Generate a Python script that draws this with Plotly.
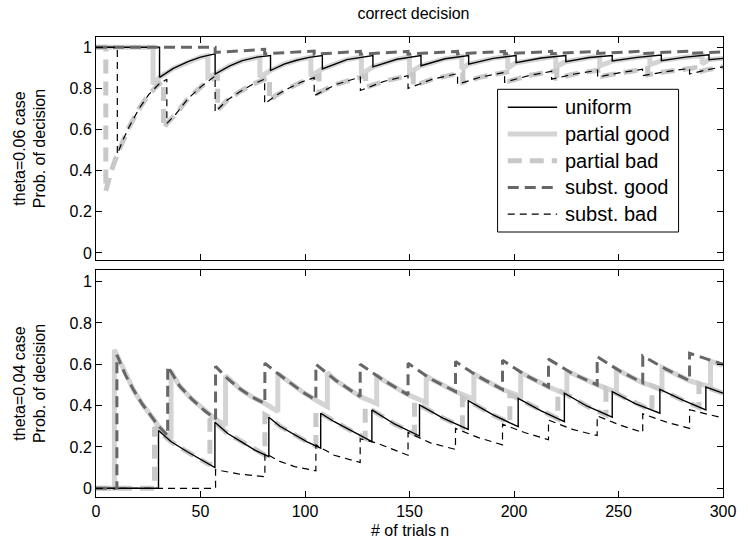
import plotly.graph_objects as go

# ---------------- data: (n, probability) breakpoints ----------------
# Top panel : theta = 0.06
top_uniform = [(0, 1), (30.4, 1), (30.4, 0.854), (37, 0.897), (44, 0.93), (50, 0.952), (57, 0.968),
               (57, 0.87), (64, 0.91), (70, 0.935), (77, 0.952), (83.5, 0.96),
               (83.5, 0.887), (90, 0.918), (96, 0.937), (102, 0.951), (108.3, 0.96),
               (108.3, 0.895), (120, 0.94), (132.5, 0.96), (132.5, 0.905), (144, 0.942), (155.5, 0.96),
               (155.5, 0.91), (167, 0.944), (178.3, 0.96), (178.3, 0.918), (190, 0.946), (201, 0.96),
               (201, 0.925), (213, 0.948), (224.8, 0.96), (224.8, 0.93), (236, 0.95), (247, 0.96),
               (247, 0.933), (259, 0.951), (270.5, 0.962), (270.5, 0.935), (282, 0.952), (293.3, 0.963),
               (293.3, 0.94), (300, 0.946)]
top_partial_good = [(0, 1), (27.3, 1), (27.3, 0.82), (30.4, 0.854), (37, 0.897), (44, 0.93), (50, 0.952),
                    (53.5, 0.96), (53.5, 0.855), (57, 0.87), (64, 0.91), (70, 0.935), (77, 0.952),
                    (78.4, 0.954), (78.4, 0.855), (83.5, 0.887), (90, 0.918), (96, 0.937), (102.8, 0.952),
                    (102.8, 0.86), (108.3, 0.895), (120, 0.94), (127, 0.953), (127, 0.87), (132.5, 0.905),
                    (144, 0.942), (150, 0.953), (150, 0.878), (155.5, 0.91), (167, 0.944), (175, 0.956),
                    (175, 0.895), (178.3, 0.918), (190, 0.946), (197, 0.956), (197, 0.898), (201, 0.925),
                    (213, 0.948), (220, 0.957), (220, 0.905), (224.8, 0.93), (236, 0.95), (241, 0.957),
                    (241, 0.91), (247, 0.933), (259, 0.951), (265, 0.958), (265, 0.915), (270.5, 0.935),
                    (282, 0.952), (290, 0.96), (290, 0.92), (293.3, 0.94), (300, 0.946)]
top_partial_bad = [(0, 1), (4.7, 1), (4.7, 0.30), (7, 0.39), (10.2, 0.48), (12.5, 0.54), (15.7, 0.61),
                   (20.5, 0.70), (25.2, 0.77), (30, 0.82), (32.3, 0.835),
                   (32.3, 0.605), (33.9, 0.63), (37.8, 0.67), (44, 0.75), (50.4, 0.81), (57, 0.86), (58.2, 0.865),
                   (58.2, 0.695), (63, 0.745), (69, 0.785), (75, 0.82), (80.7, 0.845), (83, 0.855),
                   (83, 0.74), (86, 0.765), (92, 0.80), (98, 0.83), (104.4, 0.852), (106.7, 0.86),
                   (106.7, 0.78), (115, 0.82), (126.5, 0.855), (129, 0.862),
                   (129, 0.805), (138, 0.835), (149.3, 0.862), (151.8, 0.868),
                   (151.8, 0.812), (161, 0.845), (173, 0.872), (175.5, 0.877),
                   (175.5, 0.83), (184, 0.855), (195.5, 0.878), (198, 0.882),
                   (198, 0.837), (207, 0.862), (218, 0.883), (220.5, 0.887),
                   (220.5, 0.85), (229, 0.87), (240, 0.888), (242.5, 0.891),
                   (242.5, 0.86), (251, 0.877), (261.5, 0.893), (264, 0.896),
                   (264, 0.866), (273, 0.882), (284, 0.897), (286.5, 0.9),
                   (286.5, 0.875), (292, 0.89), (300, 0.905)]
top_subst_good = [(0, 1), (57, 1), (57, 0.975), (80.7, 0.99), (80.7, 0.968), (104.4, 0.982), (104.4, 0.966),
                  (126.5, 0.98), (126.5, 0.966), (149.3, 0.98), (149.3, 0.967), (173, 0.98), (173, 0.968),
                  (195.5, 0.98), (195.5, 0.968), (218, 0.98), (218, 0.969), (240, 0.98), (240, 0.97),
                  (261.5, 0.981), (261.5, 0.97), (284, 0.981), (284, 0.971), (300, 0.977)]
top_subst_bad = [(0, 1), (10.2, 1), (10.2, 0.48), (12.5, 0.54), (15.7, 0.61), (20.5, 0.70), (25.2, 0.77),
                 (30, 0.82), (33.9, 0.845),
                 (33.9, 0.63), (37.8, 0.67), (44, 0.75), (50.4, 0.81), (57, 0.86),
                 (57, 0.685), (63, 0.745), (69, 0.785), (75, 0.82), (80.7, 0.845),
                 (80.7, 0.725), (86, 0.765), (92, 0.80), (98, 0.83), (104.4, 0.852),
                 (104.4, 0.765), (115, 0.82), (126.5, 0.855),
                 (126.5, 0.79), (138, 0.835), (149.3, 0.862),
                 (149.3, 0.80), (161, 0.845), (173, 0.872),
                 (173, 0.82), (184, 0.855), (195.5, 0.878),
                 (195.5, 0.83), (207, 0.862), (218, 0.883),
                 (218, 0.845), (229, 0.87), (240, 0.888),
                 (240, 0.855), (251, 0.877), (261.5, 0.893),
                 (261.5, 0.862), (273, 0.882), (284, 0.897),
                 (284, 0.87), (292, 0.89), (300, 0.905)]

# Bottom panel : theta = 0.04
bot_uniform = [(0, 0), (29.9, 0), (29.9, 0.28), (36, 0.225), (43.5, 0.178), (50, 0.14), (56.9, 0.10),
               (56.9, 0.32), (63, 0.265), (70, 0.222), (76, 0.185), (82.7, 0.153),
               (82.7, 0.344), (88, 0.30), (95, 0.258), (101, 0.225), (107.5, 0.194),
               (107.5, 0.363), (114, 0.322), (120, 0.29), (126, 0.258), (132, 0.226),
               (132, 0.379), (143, 0.31), (154.8, 0.253), (154.8, 0.403), (166, 0.34), (178.1, 0.285),
               (178.1, 0.424), (190, 0.355), (202, 0.298), (202, 0.435), (213, 0.375), (224.1, 0.323),
               (224.1, 0.46), (235, 0.397), (247, 0.344), (247, 0.468), (258, 0.41), (269.8, 0.363),
               (269.8, 0.479), (281, 0.425), (291.8, 0.379), (291.8, 0.49), (300, 0.46)]
bot_partial_good = [(0, 0), (8.8, 0), (8.8, 0.67), (10, 0.645), (14, 0.55), (18, 0.475), (22, 0.41),
                    (26, 0.355), (30, 0.30), (34.3, 0.255), (35.9, 0.238), (35.9, 0.565), (40, 0.495),
                    (46, 0.43), (52, 0.375), (57.2, 0.335), (62, 0.305), (62, 0.545), (69, 0.48),
                    (75, 0.44), (80.8, 0.41), (87, 0.372), (87, 0.555), (93, 0.51), (99, 0.465),
                    (105.2, 0.427), (110.7, 0.395), (110.7, 0.56), (115, 0.52), (126.4, 0.444),
                    (134.3, 0.41), (134.3, 0.545), (138, 0.52), (149.3, 0.452), (158, 0.415),
                    (158, 0.545), (160, 0.53), (172, 0.468), (180.8, 0.43), (180.8, 0.555), (183, 0.54),
                    (194.5, 0.478), (203.2, 0.445), (203.2, 0.56), (205, 0.55), (216.5, 0.49),
                    (225.3, 0.455), (225.3, 0.565), (228, 0.555), (239.8, 0.50), (249, 0.465),
                    (249, 0.575), (251, 0.565), (261.6, 0.51), (270.8, 0.48), (270.8, 0.585),
                    (273, 0.575), (284, 0.52), (294, 0.49), (294, 0.615), (300, 0.595)]
bot_partial_bad = [(0, 0), (28, 0), (28, 0.295), (29.9, 0.28), (36, 0.225), (43.5, 0.178), (50, 0.14),
                   (54.5, 0.113), (54.5, 0.338), (56.9, 0.32), (63, 0.265), (70, 0.222), (76, 0.185),
                   (80.8, 0.162), (80.8, 0.355), (82.7, 0.344), (88, 0.30), (95, 0.258), (101, 0.225),
                   (105.2, 0.205), (105.2, 0.375), (107.5, 0.363), (114, 0.322), (120, 0.29), (126, 0.258),
                   (128.8, 0.243), (128.8, 0.39), (132, 0.379), (143, 0.31), (152.4, 0.264),
                   (152.4, 0.415), (154.8, 0.403), (166, 0.34), (175.3, 0.296), (175.3, 0.438),
                   (178.1, 0.424), (190, 0.355), (198, 0.316), (198, 0.455), (202, 0.435), (213, 0.375),
                   (221, 0.336), (221, 0.475), (224.1, 0.46), (235, 0.397), (244, 0.355), (244, 0.483),
                   (247, 0.468), (258, 0.41), (266, 0.375), (266, 0.495), (269.8, 0.479), (281, 0.425),
                   (288.5, 0.392), (288.5, 0.505), (291.8, 0.49), (300, 0.46)]
bot_subst_good = [(0, 0), (10, 0), (10, 0.645), (14, 0.55), (18, 0.475), (22, 0.41), (26, 0.355), (30, 0.30),
                  (34.3, 0.255), (34.3, 0.59), (40, 0.495), (46, 0.43), (52, 0.375), (57.2, 0.335),
                  (57.2, 0.59), (63, 0.53), (69, 0.48), (75, 0.44), (80.8, 0.41), (80.8, 0.605), (87, 0.555),
                  (93, 0.51), (99, 0.465), (105.2, 0.427), (105.2, 0.60), (115, 0.52), (126.4, 0.444),
                  (126.4, 0.60), (138, 0.52), (149.3, 0.452), (149.3, 0.605), (160, 0.53), (172, 0.468),
                  (172, 0.613), (183, 0.54), (194.5, 0.478), (194.5, 0.62), (205, 0.55), (216.5, 0.49),
                  (216.5, 0.625), (228, 0.555), (239.8, 0.50), (239.8, 0.637), (251, 0.565), (261.6, 0.51),
                  (261.6, 0.64), (273, 0.575), (284, 0.52), (284, 0.653), (300, 0.60)]
bot_subst_bad = [(0, 0), (57.2, 0), (57.2, 0.09), (68, 0.07), (80.8, 0.056), (80.8, 0.17), (88, 0.13),
                 (95, 0.105), (105.2, 0.085), (105.2, 0.21), (114, 0.16), (126.4, 0.125), (126.4, 0.24),
                 (134, 0.22), (149.3, 0.16), (149.3, 0.27), (160, 0.22), (172, 0.188), (172, 0.29),
                 (183, 0.245), (194.5, 0.21), (194.5, 0.31), (205, 0.27), (216.5, 0.235), (216.5, 0.33),
                 (228, 0.285), (239.8, 0.255), (239.8, 0.35), (251, 0.305), (261.6, 0.27), (261.6, 0.36),
                 (273, 0.32), (284, 0.29), (284, 0.38), (300, 0.34)]

series_names = ["uniform", "partial good", "partial bad", "subst. good", "subst. bad"]
top_series = [top_uniform, top_partial_good, top_partial_bad, top_subst_good, top_subst_bad]
bot_series = [bot_uniform, bot_partial_good, bot_partial_bad, bot_subst_good, bot_subst_bad]

x_ticks = [0, 50, 100, 150, 200, 250, 300]
y_ticks = [0, 0.2, 0.4, 0.6, 0.8, 1]
y_tick_text = ["0", "0.2", "0.4", "0.6", "0.8", "1"]

# ---------------- styles ----------------
styles = {
    "uniform": dict(color="#000000", width=1.4, dash="solid"),
    "partial good": dict(color="#d4d4d4", width=5, dash="solid"),
    "partial bad": dict(color="#c8c8c8", width=5, dash="14px,8px"),
    "subst. good": dict(color="#666666", width=3, dash="11px,6px"),
    "subst. bad": dict(color="#000000", width=1.2, dash="7px,5px"),
}
draw_order = ["partial good", "partial bad", "uniform", "subst. good", "subst. bad"]

FONT = "Liberation Sans, Arial, Helvetica, sans-serif"
W, H = 748, 542
PL, PR, PT, PB = 96, 731, 37, 497          # plot-area pixel box


def px_x(px):
    return (px - PL) / (PR - PL)


def px_y(py):
    return (PB - py) / (PB - PT)


fig = go.Figure()

for panel, series, xa, ya in [("top", top_series, "x", "y"), ("bot", bot_series, "x2", "y2")]:
    lookup = dict(zip(series_names, series))
    for name in draw_order:
        pts = lookup[name]
        fig.add_trace(go.Scatter(
            x=[p[0] for p in pts], y=[p[1] for p in pts], mode="lines", name=name,
            line=styles[name], xaxis=xa, yaxis=ya, showlegend=False, hoverinfo="skip"))

# ---------------- legend box (drawn like the original) ----------------
shapes = [dict(type="rect", xref="paper", yref="paper", x0=px_x(502.7), x1=px_x(686),
               y0=px_y(232), y1=px_y(89.3), line=dict(color="black", width=1), fillcolor="white",
               layer="above")]
annotations = []
for i, name in enumerate(series_names):
    yy = px_y(107.3 + 26.7 * i)
    st = styles[name]
    shapes.append(dict(type="line", xref="paper", yref="paper", x0=px_x(513), x1=px_x(563), y0=yy, y1=yy,
                       line=dict(color=st["color"], width=st["width"], dash=st["dash"]), layer="above"))
    annotations.append(dict(text=name, xref="paper", yref="paper", x=px_x(569), y=yy, xanchor="left",
                            yanchor="middle", showarrow=False,
                            font=dict(family=FONT, size=20, color="black")))

# x-axis title
annotations.append(dict(text="# of trials n", xref="paper", yref="paper", x=0.5, y=px_y(530),
                        xanchor="center", yanchor="middle", showarrow=False,
                        font=dict(family=FONT, size=16, color="black")))

axis_common = dict(showline=True, linecolor="black", linewidth=1, mirror="ticks", ticks="inside",
                   ticklen=6, tickwidth=1, tickcolor="black", showgrid=False, zeroline=False,
                   tickfont=dict(family=FONT, size=16, color="black"))

fig.update_layout(
    width=W, height=H,
    margin=dict(l=PL, r=W - PR, t=PT, b=H - PB),
    paper_bgcolor="white", plot_bgcolor="white",
    font=dict(family=FONT, size=16, color="black"),
    title=dict(text="correct decision", x=(PL + PR) / 2 / W, xanchor="center", y=1 - 13 / H,
               yanchor="middle", font=dict(family=FONT, size=16, color="black")),
    xaxis=dict(domain=[0, 1], range=[0, 300], tickvals=x_ticks, showticklabels=False,
               anchor="y", **axis_common),
    yaxis=dict(domain=[0.515, 1], range=[-0.035, 1.05], tickvals=y_ticks, ticktext=y_tick_text,
               anchor="x", title=dict(text="theta=0.06 case<br>Prob. of decision", standoff=19,
                                      font=dict(family=FONT, size=16)), **axis_common),
    xaxis2=dict(domain=[0, 1], range=[0, 300], tickvals=x_ticks, anchor="y2", **axis_common),
    yaxis2=dict(domain=[0, 0.4935], range=[-0.042, 1.056], tickvals=y_ticks, ticktext=y_tick_text,
                anchor="x2", title=dict(text="theta=0.04 case<br>Prob. of decision", standoff=19,
                                        font=dict(family=FONT, size=16)), **axis_common),
    shapes=shapes,
    annotations=annotations,
    showlegend=False,
)

fig.write_html("out.html")
